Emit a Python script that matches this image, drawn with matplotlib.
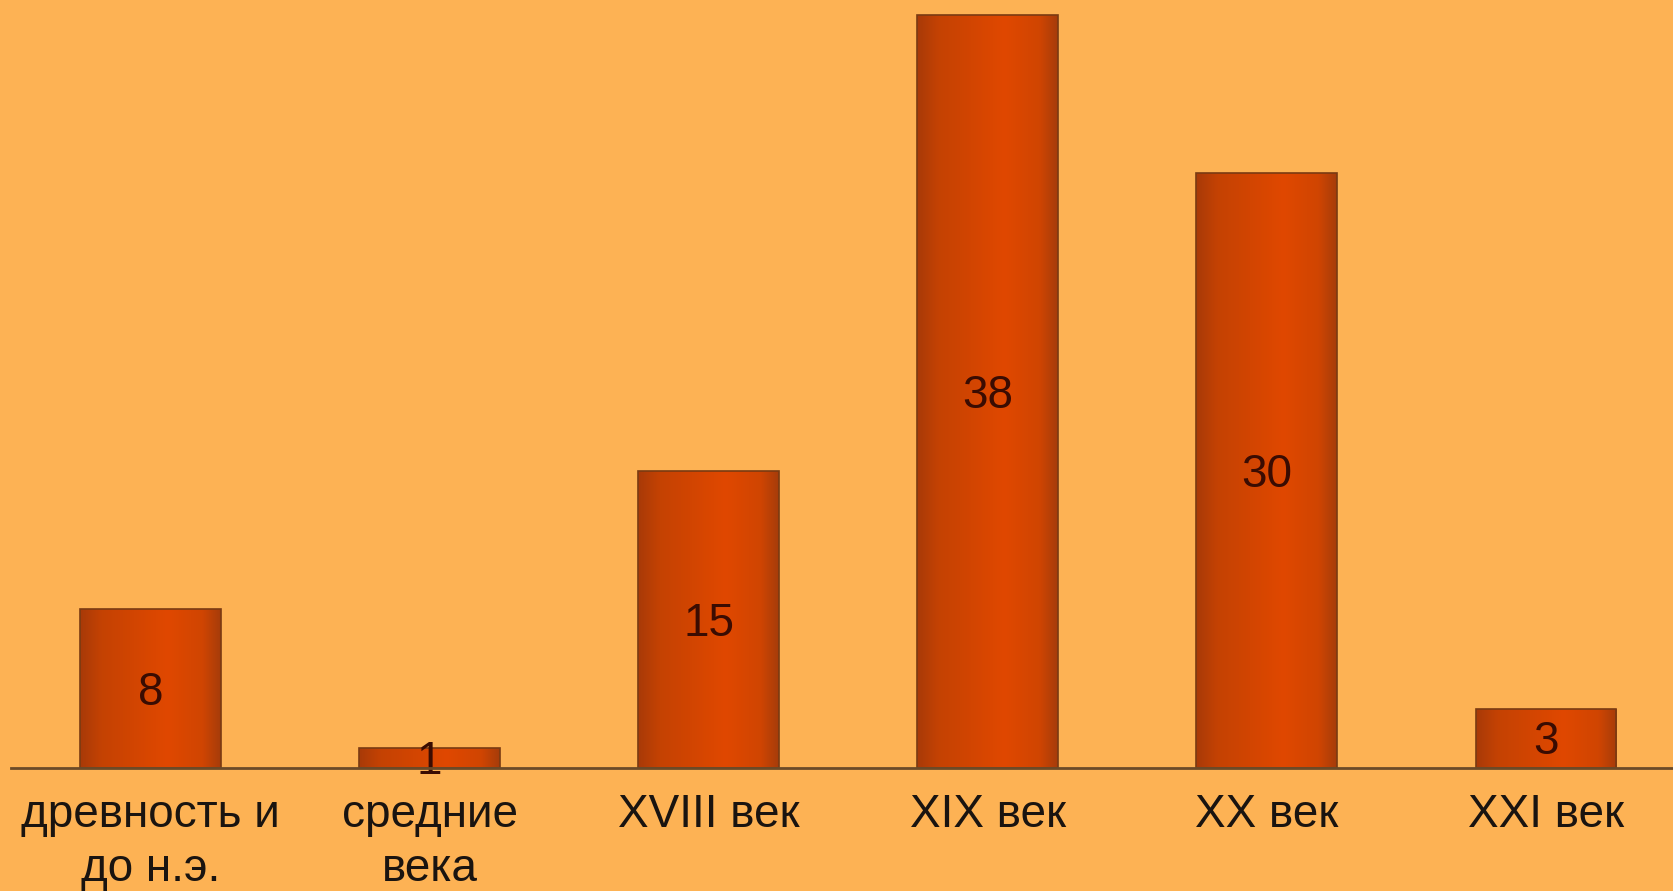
import matplotlib.pyplot as plt
import numpy as np
from matplotlib.colors import LinearSegmentedColormap

categories = ['древность и\nдо н.э.', 'средние\nвека', 'XVIII век', 'XIX век', 'XX век', 'XXI век']
values = [8, 1, 15, 38, 30, 3]

bg = '#fdb254'
plt.rcParams['font.family'] = ['Liberation Sans', 'DejaVu Sans']

fig = plt.figure(figsize=(16.73, 8.91), dpi=100, facecolor=bg)
ax = fig.add_axes([11 / 1673, 123 / 891, 1 - 11 / 1673, 768 / 891])
ax.set_facecolor(bg)

x = np.arange(len(values))
bars = ax.bar(x, values, width=0.505, color='none', edgecolor='#7a3a12', linewidth=1.2, zorder=3)

# horizontal gradient inside each bar: dark on the edges, bright at ~60%
cmap = LinearSegmentedColormap.from_list('bar', [(0.0, '#a83a08'), (0.15, '#c44203'),
                                                 (0.62, '#e04800'), (0.87, '#d04502'),
                                                 (1.0, '#a63c0a')])
grad = np.linspace(0, 1, 256).reshape(1, -1)
for b in bars:
    bx, by = b.get_x(), b.get_y()
    im = ax.imshow(grad, cmap=cmap, aspect='auto', zorder=2,
                   extent=[bx, bx + b.get_width(), by, by + b.get_height()])
    im.set_clip_path(b)

for xi, v in zip(x, values):
    ax.annotate(str(v), (xi, v / 2), xytext=(0, -3), textcoords='offset points',
                ha='center', va='center', fontsize=33, color='#3a0c02', zorder=4)

ax.set_xlim(-0.5, 5.455)
ax.set_ylim(0, 38.75)
ax.set_xticks(x)
ax.set_xticklabels(categories, fontsize=33, color='#1a1410', linespacing=1.3)
ax.tick_params(axis='x', length=0, pad=18)
ax.set_yticks([])
for s in ['top', 'right', 'left']:
    ax.spines[s].set_visible(False)
ax.spines['bottom'].set_color('#6b4a28')
ax.spines['bottom'].set_linewidth(2)
ax.spines['bottom'].set_zorder(5)

plt.savefig('out.png', dpi=100, facecolor=bg)
